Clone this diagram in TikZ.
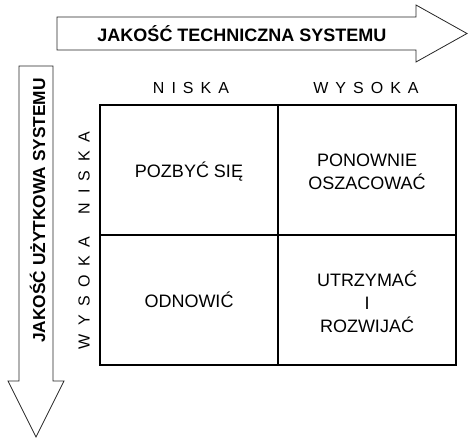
\documentclass[tikz,border=0pt]{standalone}
\usepackage{fontspec}
\setmainfont{Liberation Sans}
\newcommand\lsp{\hspace{7pt}}
\newcommand\vsp{\hspace{8.5pt}}
\tikzset{
  arrowshape/.style={draw=black!85, line width=0.8pt, fill=white, line join=miter},
  grid/.style={draw=black, line width=2.4pt},
  axistitle/.style={font=\fontsize{18}{20}\selectfont\bfseries, inner sep=0pt},
  levellabel/.style={font=\fontsize{16}{18}\selectfont, inner sep=0pt},
  celltext/.style={font=\fontsize{18}{23}\selectfont, align=center, inner sep=0pt}
}
\begin{document}
\begin{tikzpicture}[x=1pt,y=-1pt]
\useasboundingbox (0,0) rectangle (468,438);

% horizontal axis arrow
\draw[arrowshape] (57,17) -- (416,17) -- (416,5) -- (467,33.5) -- (416,62) -- (416,50) -- (57,50) -- cycle;
\node[axistitle] (tq) at (242,33.5) {JAKOŚĆ TECHNICZNA SYSTEMU};

% vertical axis arrow
\draw[arrowshape] (19,66) -- (53,66) -- (53,381) -- (64,381) -- (36,437) -- (8,381) -- (19,381) -- cycle;
\node[axistitle, rotate=90, font=\fontsize{17.3}{20}\selectfont\bfseries] (uq) at (37.5,210.5) {JAKOŚĆ UŻYTKOWA SYSTEMU};

% column and row levels
\node[levellabel] (cl) at (191,87.5) {N\lsp I\lsp S\lsp K\lsp A};
\node[levellabel] (ch) at (366,87.5) {W\lsp Y\lsp S\lsp O\lsp K\lsp A};
\node[levellabel, rotate=90] (rl) at (84,173) {N\vsp I\vsp S\vsp K\vsp A};
\node[levellabel, rotate=90] (rh) at (84,293) {W\vsp Y\vsp S\vsp O\vsp K\vsp A};

% the 2x2 matrix
\coordinate (nw) at (100,105);
\coordinate (se) at (456,365);
\draw[grid] (nw) rectangle (se);
\draw[grid] (278,105) -- (278,365);
\draw[grid] (100,235) -- (456,235);

% quadrant texts
\node[celltext] (q11) at (189,172) {POZBYĆ SIĘ};
\node[celltext] (q12) at (367,172) {PONOWNIE\\OSZACOWAĆ};
\node[celltext] (q21) at (189,300) {ODNOWIĆ};
\node[celltext] (q22) at (367,302) {UTRZYMAĆ\\I\\ROZWIJAĆ};
\end{tikzpicture}
\end{document}
